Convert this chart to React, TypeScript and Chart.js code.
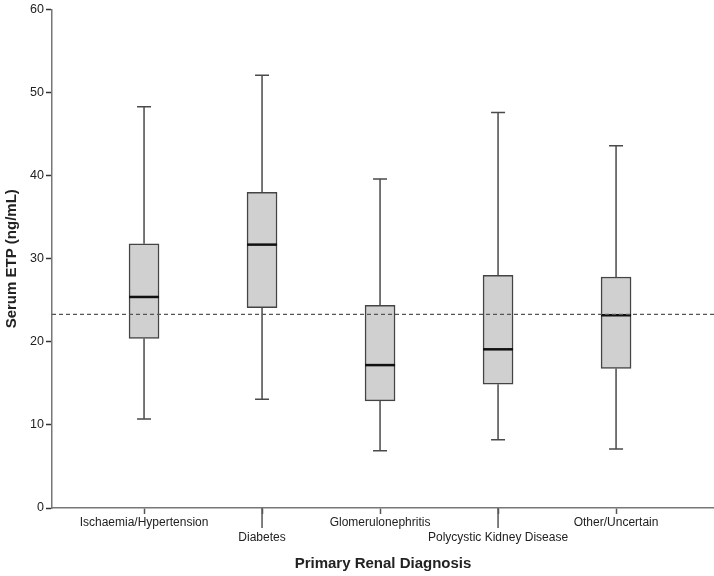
import React, { useEffect, useRef } from "react";
import { Chart, registerables } from "chart.js";

Chart.register(...registerables);

const categories = [
  "Ischaemia/Hypertension",
  "Diabetes",
  "Glomerulonephritis",
  "Polycystic Kidney Disease",
  "Other/Uncertain",
];
const whiskerLow = [10.7, 13.1, 6.9, 8.2, 7.1];
const q1 = [20.4, 24.1, 12.9, 14.9, 16.8];
const median = [25.4, 31.7, 17.2, 19.1, 23.2];
const q3 = [31.8, 38.0, 24.4, 28.0, 27.8];
const whiskerHigh = [48.3, 52.1, 39.6, 47.6, 43.6];
const referenceLine = 23.3;
const yTicks = [0, 10, 20, 30, 40, 50, 60];

const FONT = "'Liberation Sans', Arial, sans-serif";

const boxPlugin = {
  id: "boxExtras",
  beforeDatasetsDraw(chart: any) {
    const ctx = chart.ctx;
    const xs = chart.scales.x;
    const ys = chart.scales.y;
    ctx.save();
    ctx.strokeStyle = "#4a4a4a";
    ctx.lineWidth = 1.5;
    categories.forEach((_, i) => {
      const x = xs.getPixelForValue(i);
      const yLo = ys.getPixelForValue(whiskerLow[i]);
      const yHi = ys.getPixelForValue(whiskerHigh[i]);
      const yQ1 = ys.getPixelForValue(q1[i]);
      const yQ3 = ys.getPixelForValue(q3[i]);
      ctx.beginPath();
      ctx.moveTo(x, yHi);
      ctx.lineTo(x, yQ3);
      ctx.moveTo(x, yQ1);
      ctx.lineTo(x, yLo);
      ctx.moveTo(x - 7, yHi);
      ctx.lineTo(x + 7, yHi);
      ctx.moveTo(x - 7, yLo);
      ctx.lineTo(x + 7, yLo);
      ctx.stroke();
    });
    ctx.restore();
  },
  afterDatasetsDraw(chart: any) {
    const ctx = chart.ctx;
    const xs = chart.scales.x;
    const ys = chart.scales.y;
    const area = chart.chartArea;
    ctx.save();
    ctx.strokeStyle = "#111";
    ctx.lineWidth = 2.5;
    categories.forEach((_, i) => {
      const x = xs.getPixelForValue(i);
      const ym = ys.getPixelForValue(median[i]);
      ctx.beginPath();
      ctx.moveTo(x - 15, ym);
      ctx.lineTo(x + 15, ym);
      ctx.stroke();
    });
    const yr = ys.getPixelForValue(referenceLine);
    ctx.strokeStyle = "#555";
    ctx.lineWidth = 1.3;
    ctx.setLineDash([4, 3]);
    ctx.beginPath();
    ctx.moveTo(area.left, yr);
    ctx.lineTo(area.right, yr);
    ctx.stroke();
    ctx.restore();
  },
  afterDraw(chart: any) {
    const ctx = chart.ctx;
    const xs = chart.scales.x;
    const area = chart.chartArea;
    ctx.save();
    ctx.strokeStyle = "#555";
    ctx.lineWidth = 1.5;
    categories.forEach((_, i) => {
      if (i % 2 === 1) {
        const x = xs.getPixelForValue(i);
        ctx.beginPath();
        ctx.moveTo(x, area.bottom);
        ctx.lineTo(x, area.bottom + 20);
        ctx.stroke();
      }
    });
    ctx.restore();
  },
};

export default function App() {
  const ref = useRef<HTMLCanvasElement>(null);
  useEffect(() => {
    document.body.style.margin = "0";
    const chart = new Chart(ref.current as HTMLCanvasElement, {
      type: "bar",
      data: {
        datasets: [
          {
            data: categories.map((_, i) => ({ x: i, y: [q1[i], q3[i]] })) as any,
            backgroundColor: "#d0d0d0",
            borderColor: "#444",
            borderWidth: 1.5,
            borderSkipped: false,
            barThickness: 30,
          },
        ],
      },
      options: {
        animation: false,
        responsive: false,
        maintainAspectRatio: false,
        layout: { padding: { top: 9, left: 0, right: 0, bottom: 0 } },
        plugins: {
          legend: { display: false },
          tooltip: { enabled: false },
        },
        scales: {
          x: {
            type: "linear",
            min: -0.78,
            max: 4.83,
            offset: false,
            afterBuildTicks: (scale: any) => {
              scale.ticks = categories.map((_, i) => ({ value: i }));
            },
            afterFit: (scale: any) => {
              scale.height = 68;
            },
            grid: {
              offset: false,
              drawOnChartArea: false,
              tickLength: 6,
              tickColor: "#555",
              tickWidth: 1.5,
            },
            border: { color: "#777", width: 1.5 },
            ticks: {
              autoSkip: false,
              maxRotation: 0,
              minRotation: 0,
              padding: 1.5,
              color: "#222",
              font: { family: FONT, size: 12, lineHeight: 1.25 },
              callback: (v: any) => {
                const i = Number(v);
                const lbl = categories[i] ?? "";
                return i % 2 === 0 ? [lbl, ""] : ["", lbl];
              },
            },
            title: {
              display: true,
              text: "Primary Renal Diagnosis",
              color: "#222",
              font: { family: FONT, size: 15, weight: "bold", lineHeight: 1.2 },
              padding: { top: 3, bottom: 3 },
            },
          },
          y: {
            min: 0,
            max: 60,
            afterBuildTicks: (scale: any) => {
              scale.ticks = yTicks.map((v) => ({ value: v }));
            },
            afterFit: (scale: any) => {
              scale.width = 52;
            },
            grid: {
              drawOnChartArea: false,
              tickLength: 6,
              tickColor: "#333",
              tickWidth: 1.5,
            },
            border: { color: "#777", width: 1.5 },
            ticks: {
              padding: 2,
              color: "#222",
              font: { family: FONT, size: 12.5 },
            },
            title: {
              display: true,
              text: "Serum ETP (ng/mL)",
              color: "#222",
              font: { family: FONT, size: 15, weight: "bold", lineHeight: 1.2 },
              padding: { top: 3, bottom: 3 },
            },
          },
        },
      },
      plugins: [boxPlugin],
    });
    return () => chart.destroy();
  }, []);
  return (
    <div style={{ width: 714, height: 576 }}>
      <canvas ref={ref} width={714} height={576} style={{ width: 714, height: 576 }} />
    </div>
  );
}
